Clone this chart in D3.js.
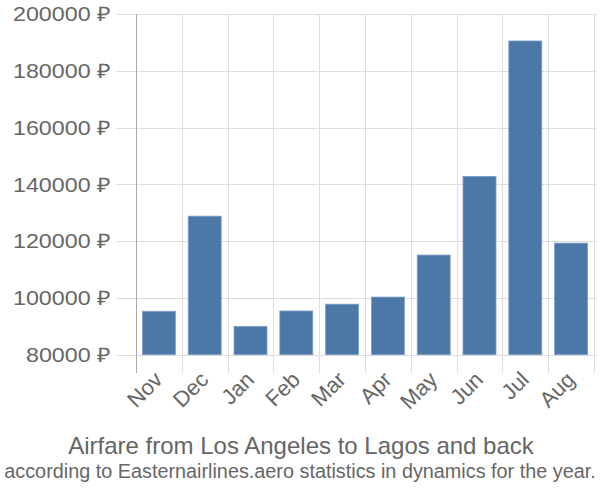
<!DOCTYPE html>
<html><head><meta charset="utf-8">
<script src="https://cdn.jsdelivr.net/npm/d3@7"></script>
<style>body{margin:0;background:#fff;} text{font-family:"Liberation Sans",Arial,sans-serif;}</style>
</head><body>
<svg id="c" width="600" height="500"></svg>
<script>
const months = ["Nov","Dec","Jan","Feb","Mar","Apr","May","Jun","Jul","Aug"];
const prices = [95300,128800,90000,95400,97800,100300,115100,142800,190500,119300];
const yTicks = [80000,100000,120000,140000,160000,180000,200000];
const title = "Airfare from Los Angeles to Lagos and back";
const subtitle = "according to Easternairlines.aero statistics in dynamics for the year.";

const svg = d3.select("#c");
const x = d3.scaleBand().domain(months).range([136,594]).paddingInner(0.28).paddingOuter(0.14);
const y = d3.scaleLinear().domain([80000,200000]).range([354.7,14]);

// horizontal grid
svg.append("g").selectAll("line").data(yTicks).join("line")
  .attr("x1",116).attr("x2",597)
  .attr("y1",d=>Math.round(y(d))+0.5).attr("y2",d=>Math.round(y(d))+0.5)
  .attr("stroke","#dddddd").attr("stroke-width",1);
// vertical grid
const step = x.step();
const vx = d3.range(months.length+1).map(i=>136+i*step);
svg.append("g").selectAll("line").data(vx).join("line")
  .attr("x1",d=>Math.round(d)+0.5).attr("x2",d=>Math.round(d)+0.5)
  .attr("y1",14).attr("y2",373)
  .attr("stroke","#dddddd").attr("stroke-width",1);
// y axis line
svg.append("line").attr("x1",136.5).attr("x2",136.5).attr("y1",14).attr("y2",373)
  .attr("stroke","#aaaaaa").attr("stroke-width",1);

// bars
svg.append("g").selectAll("rect").data(prices).join("rect")
  .attr("x",(d,i)=>x(months[i]))
  .attr("width",x.bandwidth())
  .attr("y",d=>y(d))
  .attr("height",d=>y(80000)-y(d))
  .attr("fill","#4c78a8")
  .attr("stroke","#7f9fc6").attr("stroke-width",0.8);

// y tick labels
svg.append("g").selectAll("text").data(yTicks).join("text")
  .attr("x",111).attr("y",d=>y(d)).attr("dy","0.36em")
  .attr("text-anchor","end").attr("font-size",20).attr("fill","#666")
  .attr("textLength",d=>String(d).length===6?98:85).attr("lengthAdjust","spacingAndGlyphs")
  .text(d=>d+" ₽");

// x labels
svg.append("g").selectAll("text").data(months).join("text")
  .attr("transform",d=>`translate(${x(d)+x.bandwidth()/2+5},${381}) rotate(-45)`)
  .attr("text-anchor","end").attr("font-size",22).attr("fill","#666")
  .text(d=>d);

svg.append("text").attr("x",301).attr("y",454).attr("text-anchor","middle")
  .attr("font-size",24).attr("fill","#666").text(title);
const sub = svg.append("text").attr("x",0).attr("y",0).attr("text-anchor","middle")
  .attr("font-size",21).attr("fill","#666").text(subtitle);
const w = sub.node().getComputedTextLength();
const sx = Math.min(1, 592 / w);
sub.attr("transform",`translate(300,478) scale(${sx},1)`);
</script>
</body></html>
